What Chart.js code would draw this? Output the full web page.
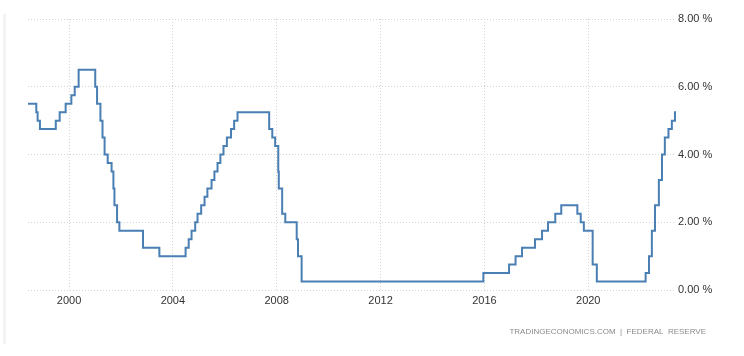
<!DOCTYPE html>
<html>
<head>
<meta charset="utf-8">
<script src="https://cdn.jsdelivr.net/npm/chart.js@4/dist/chart.umd.min.js"></script>
<style>
  html, body { margin: 0; padding: 0; background: #ffffff; }
  #wrap { width: 744px; height: 356px; }
</style>
</head>
<body>
<div id="wrap"><canvas id="c" width="744" height="356"></canvas></div>
<script>
// Fed funds target rate (upper bound), change dates as decimal years
const dates = [
  1998.42, 1998.74, 1998.79, 1998.88, 1999.49, 1999.64, 1999.87,
  2000.09, 2000.22, 2000.37,
  2001.01, 2001.08, 2001.21, 2001.29, 2001.37, 2001.49, 2001.64, 2001.71, 2001.75, 2001.85, 2001.94,
  2002.85, 2003.48,
  2004.49, 2004.61, 2004.72, 2004.86, 2004.95,
  2005.09, 2005.22, 2005.33, 2005.49, 2005.60, 2005.72, 2005.83, 2005.95,
  2006.08, 2006.24, 2006.36, 2006.49,
  2007.71, 2007.83, 2007.94,
  2008.06, 2008.08, 2008.21, 2008.33, 2008.77, 2008.82, 2008.96,
  2015.96, 2016.95,
  2017.20, 2017.45, 2017.95,
  2018.22, 2018.45, 2018.73, 2018.96,
  2019.58, 2019.71, 2019.83,
  2020.17, 2020.33,
  2022.21, 2022.34, 2022.45, 2022.57, 2022.72, 2022.84, 2022.95,
  2023.09, 2023.22, 2023.34, 2023.38
];
const rates = [
  5.50, 5.25, 5.00, 4.75, 5.00, 5.25, 5.50,
  5.75, 6.00, 6.50,
  6.00, 5.50, 5.00, 4.50, 4.00, 3.75, 3.50, 3.00, 2.50, 2.00, 1.75,
  1.25, 1.00,
  1.25, 1.50, 1.75, 2.00, 2.25,
  2.50, 2.75, 3.00, 3.25, 3.50, 3.75, 4.00, 4.25,
  4.50, 4.75, 5.00, 5.25,
  4.75, 4.50, 4.25,
  3.50, 3.00, 2.25, 2.00, 1.50, 1.00, 0.25,
  0.50, 0.75,
  1.00, 1.25, 1.50,
  1.75, 2.00, 2.25, 2.50,
  2.25, 2.00, 1.75,
  0.75, 0.25,
  0.50, 1.00, 1.75, 2.50, 3.25, 4.00, 4.50,
  4.75, 5.00, 5.25, 5.25
];
const xTickYears = [2000, 2004, 2008, 2012, 2016, 2020];
const yTickValues = [0, 2, 4, 6, 8];
const sourceText = 'TRADINGECONOMICS.COM  |  FEDERAL  RESERVE';

const points = dates.map((d, i) => ({ x: d, y: rates[i] }));

const footerPlugin = {
  id: 'footer',
  afterDraw(chart) {
    const ctx = chart.ctx;
    ctx.save();
    // faint left edge band
    ctx.fillStyle = '#f3f3f3';
    ctx.fillRect(3, 14, 3, 330);
    ctx.font = '8px "Liberation Sans", Arial, sans-serif';
    ctx.fillStyle = '#8a8a8a';
    ctx.textAlign = 'right';
    ctx.textBaseline = 'middle';
    ctx.fillText(sourceText, 706, 332);
    ctx.restore();
  }
};

new Chart(document.getElementById('c'), {
  type: 'line',
  data: {
    datasets: [{
      data: points,
      borderColor: '#4a7fb4',
      borderWidth: 2,
      pointRadius: 0,
      stepped: true,
      fill: false,
      tension: 0
    }]
  },
  options: {
    responsive: false,
    animation: false,
    layout: { padding: { left: 28, top: 19, right: 0, bottom: 0 }, autoPadding: false },
    plugins: { legend: { display: false }, tooltip: { enabled: false }, title: { display: false } },
    scales: {
      x: {
        type: 'linear',
        position: 'bottom',
        min: dates[0],
        max: dates[dates.length - 1],
        afterBuildTicks(scale) { scale.ticks = xTickYears.map(v => ({ value: v })); },
        afterFit(scale) { scale.height = 66; },
        ticks: {
          callback: v => String(v),
          font: { size: 11, family: '"Liberation Sans", Arial, sans-serif' },
          color: '#333333',
          padding: 4,
          maxRotation: 0,
          autoSkip: false
        },
        grid: { color: '#d4d4d4', lineWidth: 1, drawTicks: false },
        border: { display: false, dash: [1, 2] }
      },
      y: {
        type: 'linear',
        position: 'right',
        min: 0,
        max: 8,
        afterBuildTicks(scale) { scale.ticks = yTickValues.map(v => ({ value: v })); },
        afterFit(scale) { scale.width = 68; },
        ticks: {
          callback: v => v.toFixed(2) + ' %',
          font: { size: 11, family: '"Liberation Sans", Arial, sans-serif' },
          color: '#333333',
          padding: 2,
          autoSkip: false
        },
        grid: { color: '#d4d4d4', lineWidth: 1, drawTicks: false },
        border: { display: false, dash: [1, 2] }
      }
    }
  },
  plugins: [footerPlugin]
});
</script>
</body>
</html>
